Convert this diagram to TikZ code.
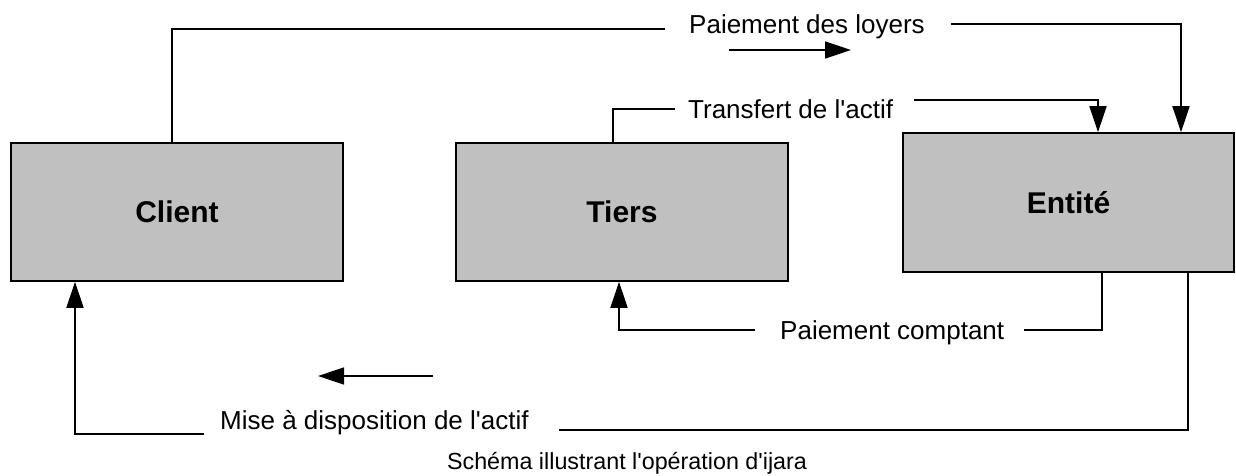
\documentclass[tikz,border=0pt]{standalone}
\usepackage{fontspec}
\setmainfont{Liberation Sans}
\newfontfamily\lblfont{Liberation Sans}
\usetikzlibrary{arrows.meta}
\definecolor{boxgray}{HTML}{C0C0C0}
\begin{document}
\begin{tikzpicture}[x=1pt,y=-1pt,
  box/.style={draw=black, line width=1.6pt, fill=boxgray, minimum width=332pt, minimum height=138pt,
    inner sep=0pt, font=\fontsize{30}{30}\selectfont\bfseries, text height=21.5pt, text depth=0pt},
  lbl/.style={inner sep=0pt, font=\lblfont\fontsize{26}{26}\selectfont, text height=18.6pt, text depth=0pt, anchor=west},
  captionlbl/.style={inner sep=0pt, font=\fontsize{23.3}{24}\selectfont, text height=16.7pt, text depth=0pt},
  conn/.style={line width=1.6pt},
  arr/.style={conn, -{Triangle[length=26pt,width=17pt]}}]
\useasboundingbox (0,0) rectangle (1236,476);

% boxes
\node[box] (client) at (177,212) {Client};
\node[box] (tiers) at (622,212) {Tiers};
\node[box, minimum width=331pt, minimum height=139pt] (entite) at (1068.5,202.5) {Entité};

% labels
\node[lbl] (loyers) at (689,24) {Paiement des loyers};
\node[lbl] (transfert) at (688,109) {Transfert de l\textquotesingle actif};
\node[lbl] (comptant) at (780,330) {Paiement comptant};
\node[lbl] (mise) at (220,420) {Mise à disposition de l\textquotesingle actif};
\node[captionlbl] (cap) at (627,461) {Schéma illustrant l\textquotesingle opération d\textquotesingle ijara};

% x positions of the vertical runs
\coordinate (xa) at (172,0);
\coordinate (xb) at (1181,0);
\coordinate (xc) at (613,0);
\coordinate (xd) at (1098,0);
\coordinate (xe) at (619,0);
\coordinate (xf) at (1102,0);
\coordinate (xg) at (75,0);
\coordinate (xh) at (1188,0);

% Paiement des loyers: Client -> Entite
\draw[conn] (client.north -| xa) |- ([xshift=-24pt,yshift=-5pt]loyers.west);
\draw[arr] ([xshift=26pt]loyers.east) -| (entite.north -| xb);

% Transfert de l'actif: Tiers -> Entite
\draw[conn] (tiers.north -| xc) |- ([xshift=-13pt]transfert.west);
\draw[arr] ([xshift=21pt,yshift=9pt]transfert.east) -| (entite.north -| xd);

% Paiement comptant: Entite -> Tiers
\draw[conn] ([xshift=20pt]comptant.east) -| (entite.south -| xf);
\draw[arr] ([xshift=-25pt]comptant.west) -| (tiers.south -| xe);

% Mise a disposition: Entite -> Client
\draw[conn] ([xshift=30pt,yshift=-10pt]mise.east) -| (entite.south -| xh);
\draw[arr] ([xshift=-16pt,yshift=-14pt]mise.west) -| (client.south -| xg);

% direction arrows
\coordinate (r1) at (729,50);
\coordinate (r2) at (851,50);
\draw[arr] (r1) -- (r2);
\coordinate (l1) at (433,376);
\coordinate (l2) at (318,376);
\draw[arr] (l1) -- (l2);
\end{tikzpicture}
\end{document}
